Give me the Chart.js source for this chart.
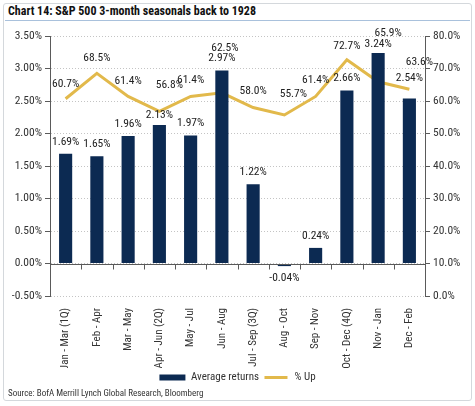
<!DOCTYPE html>
<html><head><meta charset="utf-8">
<script src="https://cdn.jsdelivr.net/npm/chart.js@4"></script>
<style>
html,body{margin:0;padding:0;background:#fff;}
#wrap{position:relative;width:475px;height:406px;overflow:hidden;background:#fff;}
#frame{position:absolute;left:3px;top:3px;width:469px;height:398px;border:1px solid #d4d8dc;border-radius:3px;box-sizing:border-box;}
#title{position:absolute;left:8px;top:4px;font:bold 12px 'Roboto Condensed',sans-serif;color:#111;white-space:nowrap;}
#rule{position:absolute;left:5px;top:20px;width:465px;height:1px;background:#a9c1dc;}
#source{position:absolute;left:8px;top:388px;font:9px 'Roboto Condensed',sans-serif;color:#333;white-space:nowrap;}
canvas{position:absolute;left:0;top:0;}
</style></head>
<body>
<div id="wrap">
<div id="frame"></div>
<div id="title">Chart 14: S&amp;P 500 3-month seasonals back to 1928</div>
<div id="rule"></div>
<canvas id="c" width="475" height="393"></canvas>
<div id="source">Source: BofA Merrill Lynch Global Research, Bloomberg</div>
</div>
<script>
const categories = ["Jan - Mar (1Q)","Feb - Apr","Mar - May","Apr - Jun (2Q)","May - Jul","Jun - Aug","Jul - Sep (3Q)","Aug - Oct","Sep - Nov","Oct - Dec (4Q)","Nov - Jan","Dec - Feb"];
const avgReturns = [1.69,1.65,1.96,2.13,1.97,2.97,1.22,-0.04,0.24,2.66,3.24,2.54];
const pctUp = [60.7,68.5,61.4,56.8,61.4,62.5,58.0,55.7,61.4,72.7,65.9,63.6];
const leftTicks = {min:-0.5,max:3.5,step:0.5};
const rightTicks = {min:0,max:80,step:10};

// label nudges (layout only)
const barLabelDy = [-12,-12,-12,-10,-12,-12,-12,12,-12,-12,-9,-20];
const lineLabelNudge = [[0,-15],[0,-15],[0,-15],[10,-26],[0,-16],[3,-45],[0,-16],[9,-21],[0,-16],[0,-14],[10,-49],[10,-27]];

const COND = "'Roboto Condensed',sans-serif";
const NAVY = '#0c2a52';
const GOLD = '#e2b94b';
const AXIS = '#5a5a5a';

const labelsPlugin = {
  id:'labels',
  afterDraw(chart){
    const ctx = chart.ctx;
    const y = chart.scales.y;
    const ca = chart.chartArea;
    const y0 = Math.round(y.getPixelForValue(0))+0.5;
    ctx.save();
    ctx.strokeStyle = AXIS; ctx.lineWidth = 1;
    ctx.beginPath();
    ctx.moveTo(ca.left, y0); ctx.lineTo(ca.right, y0);
    const step = (ca.right-ca.left)/categories.length;
    for(let k=1;k<categories.length;k++){
      const px = Math.round(ca.left+k*step)+0.5;
      ctx.moveTo(px, y0); ctx.lineTo(px, y0+5);
    }
    ctx.stroke();
    ctx.fillStyle = '#222';
    ctx.font = "11.5px " + COND;
    ctx.textAlign='center'; ctx.textBaseline='middle';
    const m0 = chart.getDatasetMeta(0), m1 = chart.getDatasetMeta(1);
    m0.data.forEach((el,i)=>{
      ctx.fillText(avgReturns[i].toFixed(2)+'%', el.x, el.y + barLabelDy[i]);
    });
    m1.data.forEach((el,i)=>{
      ctx.fillText(pctUp[i].toFixed(1)+'%', el.x + lineLabelNudge[i][0], el.y + lineLabelNudge[i][1]);
    });
    ctx.restore();
  }
};

new Chart(document.getElementById('c'),{
  data:{
    labels: categories,
    datasets:[
      {type:'bar', label:'Average returns', data:avgReturns, backgroundColor:NAVY, yAxisID:'y', barPercentage:0.42, categoryPercentage:1, order:1},
      {type:'line', label:'% Up', data:pctUp, borderColor:GOLD, backgroundColor:GOLD, borderWidth:3, pointRadius:0, tension:0, yAxisID:'y1', order:2}
    ]
  },
  options:{
    responsive:false, animation:false,
    layout:{padding:{top:36,left:0,right:0,bottom:0}},
    plugins:{
      tooltip:{enabled:false},
      legend:{
        position:'bottom',
        labels:{
          boxWidth:26, boxHeight:6, padding:4, color:'#333',
          font:{family:COND,size:11},
          generateLabels(chart){
            const items = Chart.defaults.plugins.legend.labels.generateLabels(chart);
            items.forEach(it=>{
              if(it.text==='% Up'){ it.fillStyle=GOLD; it.strokeStyle='#fff'; it.lineWidth=3; }
              else { it.fillStyle=NAVY; it.strokeStyle=NAVY; it.lineWidth=0; }
            });
            return items;
          }
        }
      }
    },
    scales:{
      x:{
        grid:{display:false}, border:{display:false},
        ticks:{minRotation:90,maxRotation:90,autoSkip:false,color:'#333',font:{family:COND,size:11},padding:4},
        afterFit(s){ s.height = 72; }
      },
      y:{
        position:'left', min:leftTicks.min, max:leftTicks.max,
        ticks:{stepSize:leftTicks.step, color:'#333', font:{family:COND,size:11.5}, padding:3,
          callback:v=>Number(v).toFixed(2)+'%'},
        grid:{color:'#c4c4c4', tickColor:AXIS, tickLength:5, lineWidth:1},
        border:{color:AXIS, width:1, dash:[1,2]},
        afterFit(s){ s.width = 50; }
      },
      y1:{
        position:'right', min:rightTicks.min, max:rightTicks.max,
        ticks:{stepSize:rightTicks.step, color:'#333', font:{family:COND,size:11.5}, padding:3,
          callback:v=>Number(v).toFixed(1)+'%'},
        grid:{drawOnChartArea:false, tickColor:AXIS, tickLength:5},
        border:{color:AXIS, width:1},
        afterFit(s){ s.width = 50; }
      }
    }
  },
  plugins:[labelsPlugin]
});
</script>
</body></html>
